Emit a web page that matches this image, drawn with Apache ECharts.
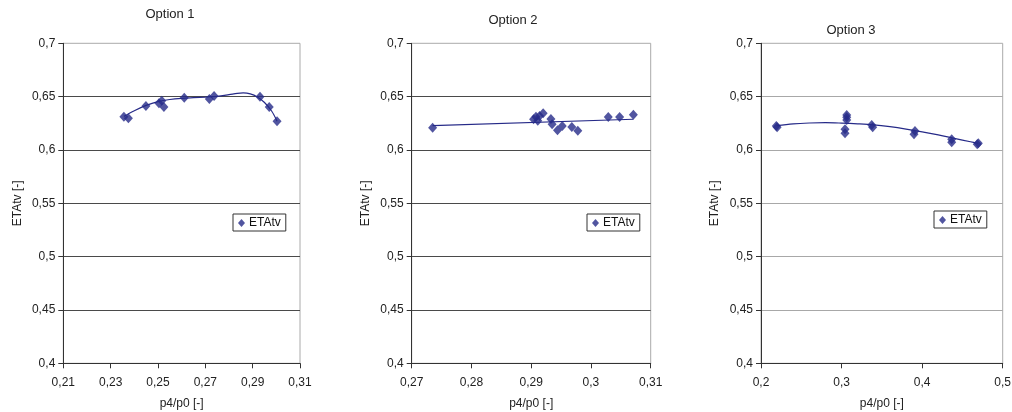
<!DOCTYPE html>
<html>
<head>
<meta charset="utf-8">
<script src="https://cdn.jsdelivr.net/npm/echarts@6/dist/echarts.min.js"></script>
<style>
  html, body { margin: 0; padding: 0; background: #fff; }
  #chart { width: 1012px; height: 412px; }
</style>
</head>
<body>
<div id="chart"></div>
<script>
// Measured efficiency ETAtv against pressure ratio p4/p0, three design options.
const titles = ['Option 1', 'Option 2', 'Option 3'];
const seriesName = 'ETAtv';

// Option 1: measured points [p4/p0, ETAtv]
const option1Points = [
  [0.2356, 0.6312], [0.2375, 0.6297], [0.2449, 0.6412], [0.2504, 0.6438],
  [0.2516, 0.6462], [0.2525, 0.6403], [0.2611, 0.6490], [0.2717, 0.6478],
  [0.2737, 0.6506], [0.2931, 0.6499], [0.2970, 0.6403], [0.3003, 0.6269]
];
// Option 1: polynomial trend curve
const option1Trend = [
  [0.2356, 0.6315], [0.2400, 0.6368], [0.2450, 0.6418], [0.2500, 0.6453],
  [0.2550, 0.6473], [0.2600, 0.6484], [0.2650, 0.6490], [0.2700, 0.6495],
  [0.2750, 0.6502], [0.2800, 0.6518], [0.2835, 0.6531], [0.2860, 0.6535],
  [0.2890, 0.6526], [0.2920, 0.6497], [0.2950, 0.6445], [0.2980, 0.6365],
  [0.3003, 0.6270]
];

// Option 2: measured points
const option2Points = [
  [0.2735, 0.6209], [0.2904, 0.6287], [0.2908, 0.6312], [0.2911, 0.6274],
  [0.2914, 0.6318], [0.2920, 0.6344], [0.2933, 0.6290], [0.2935, 0.6241],
  [0.2944, 0.6184], [0.2952, 0.6225], [0.2968, 0.6215], [0.2978, 0.6181],
  [0.3029, 0.6309], [0.3048, 0.6309], [0.3071, 0.6331]
];
// Option 2: linear trend
const option2Trend = [[0.2735, 0.6229], [0.3071, 0.6288]];

// Option 3: measured points
const option3Points = [
  [0.2190, 0.6225], [0.2200, 0.6212], [0.3064, 0.6328], [0.3064, 0.6306],
  [0.3064, 0.6280], [0.3043, 0.6194], [0.3043, 0.6156], [0.3374, 0.6234],
  [0.3386, 0.6212], [0.3911, 0.6178], [0.3899, 0.6147], [0.4367, 0.6100],
  [0.4367, 0.6072], [0.4697, 0.6063], [0.4684, 0.6053]
];
// Option 3: quadratic trend curve
const option3Trend = [
  [0.2195, 0.6228], [0.2400, 0.6245], [0.2600, 0.6253], [0.2800, 0.6256],
  [0.3000, 0.6252], [0.3200, 0.6245], [0.3400, 0.6235], [0.3600, 0.6218],
  [0.3800, 0.6196], [0.4000, 0.6170], [0.4200, 0.6141], [0.4400, 0.6109],
  [0.4600, 0.6077], [0.4697, 0.6062]
];

// Tick labels
const xTicks1 = [0.21, 0.23, 0.25, 0.27, 0.29, 0.31];
const xTicks2 = [0.27, 0.28, 0.29, 0.30, 0.31];
const xTicks3 = [0.2, 0.3, 0.4, 0.5];
const yMin = 0.4, yMax = 0.7, yStep = 0.05;

const xName = 'p4/p0 [-]';
const yName = 'ETAtv [-]';

const markColor = '#262a88';
const font = 'Liberation Sans, Arial, sans-serif';
const fmt = v => String(Number(v.toFixed(4))).replace('.', ',');

const panels = [
  { points: option1Points, trend: option1Trend, ticks: xTicks1, smooth: 0.35,
    grid: { left: 63.3, right: 712, top: 43.3, bottom: 48.7 },
    title: { left: 170, top: 8 }, legend: { left: 233, top: 214 }, gridColor: '#4a4a4a' },
  { points: option2Points, trend: option2Trend, ticks: xTicks2, smooth: false,
    grid: { left: 411.7, right: 361.3, top: 43.3, bottom: 48.7 },
    title: { left: 513, top: 14 }, legend: { left: 587, top: 214 }, gridColor: '#4a4a4a' },
  { points: option3Points, trend: option3Trend, ticks: xTicks3, smooth: 0.35,
    grid: { left: 761, right: 9.3, top: 43.3, bottom: 48.7 },
    title: { left: 851, top: 24 }, legend: { left: 934, top: 211 }, gridColor: '#a8a8a8' }
];

const option = {
  backgroundColor: '#fff',
  animation: false,
  textStyle: { fontFamily: font },
  title: [], legend: [], grid: [], xAxis: [], yAxis: [], series: []
};

panels.forEach((p, i) => {
  option.title.push({
    text: titles[i], left: p.title.left, top: p.title.top, textAlign: 'center', padding: 0,
    textStyle: { fontFamily: font, fontSize: 13, fontWeight: 'normal', color: '#222' }
  });
  option.legend.push({
    data: [{ name: seriesName, icon: 'diamond' }],
    left: p.legend.left, top: p.legend.top, orient: 'vertical',
    padding: [3, 5, 2, 5], itemWidth: 7, itemHeight: 8, itemGap: 0,
    borderColor: '#333', borderWidth: 1, backgroundColor: '#fff',
    selectedMode: false,
    textStyle: { fontFamily: font, fontSize: 12, color: '#111', padding: [0, 0, 0, -1] }
  });
  option.grid.push(Object.assign({
    show: true, borderColor: '#aaa', borderWidth: 1, backgroundColor: 'transparent',
    containLabel: false, outerBoundsMode: 'none'
  }, p.grid));
  option.xAxis.push({
    type: 'value', gridIndex: i,
    min: p.ticks[0], max: p.ticks[p.ticks.length - 1],
    name: xName, nameLocation: 'middle', nameGap: 34,
    nameTextStyle: { fontFamily: font, fontSize: 12, color: '#222' },
    axisLine: { show: true, onZero: false, lineStyle: { color: '#333', width: 1 } },
    axisTick: { show: true, inside: false, length: 5, customValues: p.ticks, lineStyle: { color: '#333' } },
    axisLabel: { customValues: p.ticks, formatter: fmt, margin: 13, fontSize: 12, color: '#222', fontFamily: font, showMinLabel: true, showMaxLabel: true },
    splitLine: { show: false }
  });
  option.yAxis.push({
    type: 'value', gridIndex: i, min: yMin, max: yMax, interval: yStep,
    name: yName, nameLocation: 'middle', nameGap: 40, nameRotate: 90,
    nameTextStyle: { fontFamily: font, fontSize: 12, color: '#222' },
    axisLine: { show: true, onZero: false, lineStyle: { color: '#333', width: 1 } },
    axisTick: { show: true, inside: false, length: 5, lineStyle: { color: '#333' } },
    axisLabel: { formatter: fmt, margin: 8, fontSize: 12, color: '#222', fontFamily: font },
    splitLine: { show: true, showMinLine: false, showMaxLine: false, lineStyle: { color: p.gridColor, width: 1 } }
  });
  option.series.push({
    type: 'line', name: 'trend' + (i + 1), xAxisIndex: i, yAxisIndex: i,
    data: p.trend, smooth: p.smooth, showSymbol: false, symbol: 'none',
    lineStyle: { color: markColor, width: 1.2 }, z: 2, silent: true
  });
  option.series.push({
    type: 'scatter', name: seriesName, xAxisIndex: i, yAxisIndex: i,
    data: p.points, symbol: 'diamond', symbolSize: [9, 10],
    itemStyle: { color: markColor }, z: 3
  });
});

const chart = echarts.init(document.getElementById('chart'), null, { renderer: 'canvas' });
chart.setOption(option);
</script>
</body>
</html>
